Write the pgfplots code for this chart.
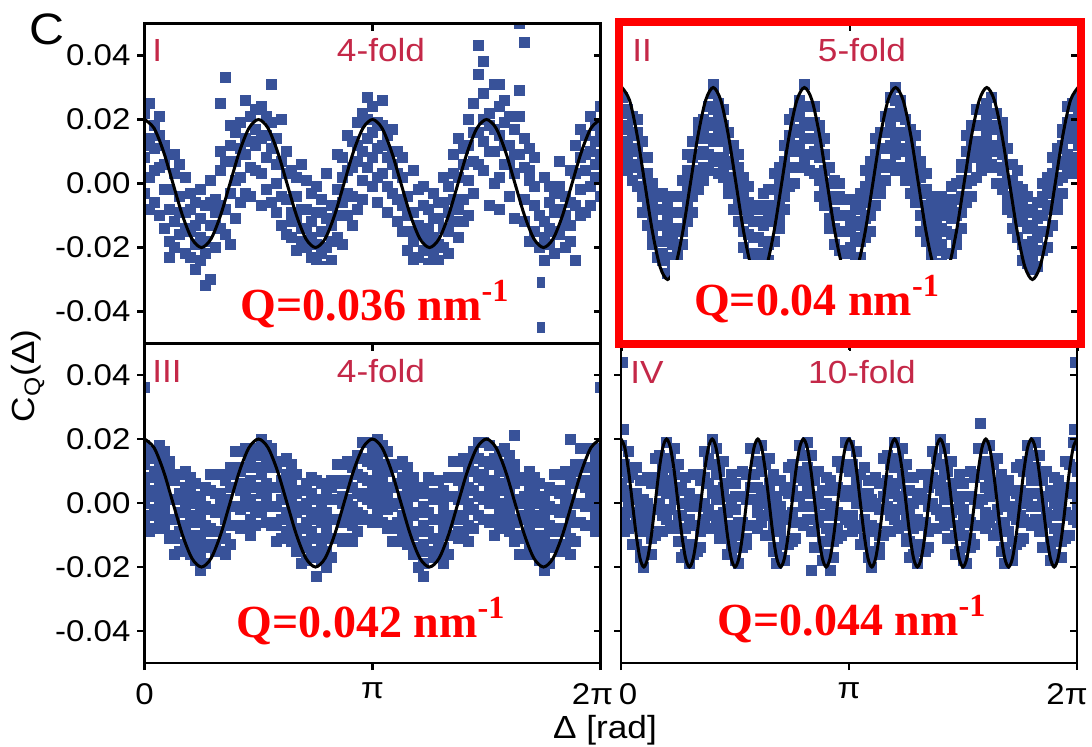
\documentclass[border=0pt]{standalone}
\usepackage{pgfplots}
\pgfplotsset{compat=1.18}
\usepackage{pgfplotstable}
\usepackage{fontspec}
\setmainfont{Liberation Sans}[FakeStretch=1.1]
\newfontfamily\qfont{Liberation Serif}
\definecolor{ptblue}{RGB}{56,82,153}
\definecolor{lbl}{RGB}{196,40,72}
\definecolor{qred}{RGB}{255,0,0}

% y values in units of 10^-3, x in degrees
\pgfplotstableread{
x a b c d
0 22 8 -3 12
4 14 25 2 -8
8 18 -6 11 4
12 5 15 -10 21
16 -2 12 -14 6
20 9 -8 -18 -2
24 -12 3 -20 9
28 -4 -16 6 -9
32 -22 -9 2 -14
36 -15 -3 -23 -8
40 -6 -19 -27 -13
44 -11 -24 -2 -17
48 -18 -7 -32 -22
52 1 -13 -30 -6
56 -20 -5 -9 -13
60 -14 4 10 -7
64 33 -8 -16 7
68 12 -3 -19 18
72 7 16 -11 1
76 19 2 -6 11
80 26 9 14 -3
84 5 21 -4 13
88 17 12 23 4
92 24 3 -7 14
96 15 8 -2 21
100 31 11 19 -6
104 0 -9 14 6
108 7 -13 20 -4
112 -5 10 -16 3
116 -17 4 -9 -12
120 -11 -21 2 -4
124 6 -14 -18 -8
128 -20 -8 1 -14
132 -23 -12 -3 -17
136 -9 -19 -24 -1
140 -15 -22 -5 -9
144 -26 -11 3 -20
148 -13 -24 -7 -18
152 -2 -17 9 -10
156 -6 8 -19 2
160 4 -10 15 -3
164 13 -4 -13 5
168 19 7 -8 12
172 10 22 1 -5
176 27 5 14 20
180 24 -1 16 8
184 11 19 -6 2
188 26 3 12 18
192 8 15 -9 -1
196 17 -3 6 10
200 -5 10 -12 3
204 2 -15 8 -7
208 -10 -4 -21 -15
212 -18 -9 4 -24
216 -13 -23 -2 -16
220 -21 -16 -7 -1
224 -8 -25 -14 -19
228 -17 -22 -3 -11
232 -24 -11 -19 -6
236 -6 -20 2 -14
240 -15 -1 -22 -9
244 3 -12 9 -5
248 -8 14 -17 2
252 11 -5 6 -12
256 20 1 -10 12
260 7 25 -3 16
264 43 16 34 6
268 28 13 4 20
272 22 -7 18 10
276 31 10 0 17
280 15 24 -8 2
284 26 6 19 12
288 12 -4 21 6
292 3 17 -11 9
296 50 29 9 21
300 14 -12 5 -5
304 1 -18 11 4
308 -7 8 -15 -1
312 -31 -45 -20 -10
316 -12 -24 2 -17
320 -19 -6 -14 -1
324 -3 -22 -9 -15
328 -16 -1 7 -8
332 -10 -20 -4 -13
336 4 -13 -18 -6
340 -24 12 -7 3
344 8 -2 17 -10
348 15 4 -9 9
352 10 21 -1 -7
356 18 2 13 6
360 24 9 -4 16
}\dataI
\pgfplotstableread{
x y
268 38
300 44
280 31
60 25
20 -23
}\extraI

\pgfplotstableread{
x a b c d e f
0 6 12 17 22 27 9
4 7 13 18 23 4 18
8 1 6 11 16 21 10
12 -1 5 10 15 20 16
16 -4 -9 3 8 13 -4
20 -13 -7 -2 3 8 0
24 -16 -10 -5 0 -19 -10
28 -23 -18 -13 -8 -3 -4
32 -24 -18 -13 -8 -3 -22
36 -23 -28 -16 -11 -6 -13
40 -25 -19 -14 -9 -4 -17
44 -20 -14 -9 -4 -23 -4
48 -19 -14 -9 -4 1 -15
52 -12 -6 -1 4 9 0
56 -4 -9 3 8 13 1
60 -2 4 9 14 19 16
64 4 10 15 20 1 5
68 4 9 14 19 24 18
72 7 13 18 23 28 14
76 8 3 15 20 25 23
80 2 8 13 18 23 5
84 0 6 11 16 -3 11
88 -8 -3 2 7 12 1
92 -12 -6 -1 4 9 5
96 -15 -20 -8 -3 2 -15
100 -22 -16 -11 -6 -1 -9
104 -23 -17 -12 -7 -26 -17
108 -27 -22 -17 -12 -7 -8
112 -24 -18 -13 -8 -3 -22
116 -19 -24 -12 -7 -2 -9
120 -18 -12 -7 -2 3 -10
124 -11 -5 0 5 -14 5
128 -8 -3 2 7 12 -4
132 -1 5 10 15 20 11
136 5 0 12 17 22 10
140 5 11 16 21 26 23
144 8 14 19 24 5 9
148 4 9 14 19 24 18
152 3 9 14 19 24 10
156 1 -4 8 13 18 16
160 -7 -1 4 9 14 -4
164 -11 -5 0 5 -14 0
168 -19 -14 -9 -4 1 -10
172 -21 -15 -10 -5 0 -4
176 -22 -27 -15 -10 -5 -22
180 -26 -20 -15 -10 -5 -13
184 -23 -17 -12 -7 -26 -17
188 -23 -18 -13 -8 -3 -4
192 -17 -11 -6 -1 4 -15
196 -10 -15 -3 2 7 0
200 -7 -1 4 9 14 1
204 0 6 11 16 -3 16
208 1 6 11 16 21 5
212 6 12 17 22 27 18
216 9 4 16 21 26 14
220 5 11 16 21 26 23
224 4 10 15 20 1 5
228 -3 2 7 12 17 11
232 -6 0 5 10 15 1
236 -10 -15 -3 2 7 5
240 -18 -12 -7 -2 3 -15
244 -20 -14 -9 -4 -23 -9
248 -26 -21 -16 -11 -6 -17
252 -25 -19 -14 -9 -4 -8
256 -22 -27 -15 -10 -5 -22
260 -22 -16 -11 -6 -1 -9
264 -16 -10 -5 0 -19 -10
268 -14 -9 -4 1 6 5
272 -6 0 5 10 15 -4
276 1 -4 8 13 18 11
280 2 8 13 18 23 10
284 7 13 18 23 4 23
288 5 10 15 20 25 9
292 6 12 17 22 27 18
296 5 0 12 17 22 10
300 -2 4 9 14 19 16
304 -5 1 6 11 -8 -4
308 -14 -9 -4 1 6 0
312 -17 -11 -6 -1 4 -10
316 -19 -24 -12 -7 -2 -4
320 -25 -19 -14 -9 -4 -22
324 -24 -18 -13 -8 -27 -13
328 -26 -21 -16 -11 -6 -17
332 -21 -15 -10 -5 0 -4
336 -15 -20 -8 -3 2 -15
340 -13 -7 -2 3 8 0
344 -5 1 6 11 -8 1
348 -3 2 7 12 17 16
352 3 9 14 19 24 5
356 8 3 15 20 25 18
360 6 12 17 22 27 14
}\dataII
\pgfplotstableread{
x y
72 31
144 31
216 30
}\extraII

\pgfplotstableread{
x a b c d e f
0 -6 0 6 12 18 3
4 -4 2 8 14 -9 15
8 -8 -2 4 10 16 -4
12 -5 1 7 13 18 7
16 -8 -2 4 10 16 0
20 -11 -5 1 7 13 10
24 -11 -5 1 7 -16 -10
28 -15 -9 -3 3 9 1
32 -13 -7 -1 5 10 -7
36 -16 -10 -4 2 8 4
40 -18 -12 -6 0 6 -15
44 -16 -10 -4 2 -21 -3
48 -19 -13 -7 -1 5 -9
52 -14 -8 -2 4 9 4
56 -15 -9 -3 3 9 -13
60 -15 -9 -3 3 9 0
64 -11 -5 1 7 -16 -4
68 -13 -7 -1 5 11 9
72 -7 -1 5 11 16 -7
76 -8 -2 4 10 16 6
80 -7 -1 5 11 17 2
84 -5 1 7 13 -10 14
88 -7 -1 5 11 17 -3
92 -3 3 9 15 20 9
96 -6 0 6 12 18 2
100 -7 -1 5 11 17 14
104 -7 -1 5 11 -12 -6
108 -11 -5 1 7 13 5
112 -9 -3 3 9 14 -3
116 -12 -6 0 6 12 8
120 -15 -9 -3 3 9 -12
124 -14 -8 -2 4 -19 -1
128 -18 -12 -6 0 6 -8
132 -15 -9 -3 3 8 3
136 -17 -11 -5 1 7 -15
140 -18 -12 -6 0 6 -3
144 -15 -9 -3 3 -20 -8
148 -17 -11 -5 1 7 5
152 -11 -5 1 7 12 -11
156 -12 -6 0 6 12 2
160 -11 -5 1 7 13 -2
164 -7 -1 5 11 -12 12
168 -9 -3 3 9 15 -5
172 -4 2 8 14 19 8
176 -5 1 7 13 19 3
180 -6 0 6 12 18 15
184 -3 3 9 15 20 -3
188 -6 0 6 12 18 8
192 -8 -2 4 10 16 1
196 -7 -1 5 11 -12 12
200 -12 -6 0 6 12 -8
204 -10 -4 2 8 13 2
208 -13 -7 -1 5 11 -5
212 -16 -10 -4 2 8 5
216 -15 -9 -3 3 -20 -14
220 -19 -13 -7 -1 5 -3
224 -15 -9 -3 3 8 -9
228 -17 -11 -5 1 7 3
232 -17 -11 -5 1 7 -14
236 -14 -8 -2 4 -19 -1
240 -16 -10 -4 2 8 -6
244 -10 -4 2 8 13 8
248 -11 -5 1 7 13 -9
252 -10 -4 2 8 14 5
256 -7 -1 5 11 -12 0
260 -8 -2 4 10 16 14
264 -4 2 8 14 19 -4
268 -5 1 7 13 19 9
272 -6 0 6 12 18 3
276 -5 1 7 13 -10 14
280 -8 -2 4 10 16 -4
284 -6 0 6 12 17 6
288 -9 -3 3 9 15 -1
292 -12 -6 0 6 12 9
296 -11 -5 1 7 -16 -10
300 -16 -10 -4 2 8 0
304 -13 -7 -1 5 10 -7
308 -16 -10 -4 2 8 4
312 -18 -12 -6 0 6 -15
316 -16 -10 -4 2 -21 -3
320 -19 -13 -7 -1 5 -9
324 -14 -8 -2 4 9 4
328 -15 -9 -3 3 9 -13
332 -14 -8 -2 4 10 1
336 -11 -5 1 7 -16 -4
340 -12 -6 0 6 12 10
344 -6 0 6 12 17 -6
348 -7 -1 5 11 17 7
352 -7 -1 5 11 17 2
356 -4 2 8 14 -9 15
360 -7 -1 5 11 17 -3
}\dataIII
\pgfplotstableread{
x y
0 36
360 36
136 -23
220 -23
292 21
336 20
}\extraIII

\pgfplotstableread{
x a b c d e
0 -6 2 10 18 6
3 -4 4 12 -9 -3
6 -8 0 8 16 11
9 -7 1 9 -13 -3
12 -13 -5 3 11 2
15 -17 -9 -1 7 -16
18 -15 -7 1 -20 -4
21 -16 -8 0 8 -5
24 -10 -2 6 -16 -11
27 -10 -2 6 14 8
30 -9 -1 7 15 0
33 -4 4 12 -9 10
36 -5 3 11 19 -5
39 -2 6 14 -8 7
42 -7 1 9 17 3
45 -12 -4 4 12 -8
48 -12 -4 4 -17 5
51 -16 -8 0 8 -8
54 -13 -5 3 -19 -1
57 -15 -7 1 9 -16
60 -15 -7 1 9 -1
63 -9 -1 7 -14 0
66 -8 0 8 16 -5
69 -2 6 14 -8 13
72 -4 4 12 20 3
75 -7 1 9 17 10
78 -6 2 10 -11 -8
81 -11 -3 5 13 2
84 -10 -2 6 -16 -3
87 -15 -7 1 9 -13
90 -18 -10 -2 6 2
93 -14 -6 2 -19 -8
96 -14 -6 2 10 2
99 -7 1 9 -13 -11
102 -7 1 9 17 5
105 -7 1 9 17 5
108 -3 5 13 -8 -2
111 -6 2 10 18 13
114 -4 4 12 -10 0
117 -10 -2 6 14 5
120 -15 -7 1 9 -14
123 -14 -6 2 -19 -3
126 -17 -9 -1 7 -6
129 -12 -4 4 -18 -13
132 -13 -5 3 11 5
135 -12 -4 4 12 -3
138 -6 2 10 -11 8
141 -6 2 10 18 -6
144 -1 7 15 -7 8
147 -5 3 11 19 5
150 -9 -1 7 15 -5
153 -9 -1 7 -14 8
156 -14 -6 2 10 -6
159 -12 -4 4 -18 0
162 -16 -8 0 8 -17
165 -17 -9 -1 7 -3
168 -12 -4 4 -17 -3
171 -11 -3 5 13 -8
174 -4 4 12 -10 11
177 -5 3 11 19 2
180 -6 2 10 18 11
183 -4 4 12 -9 -6
186 -8 0 8 16 5
189 -7 1 9 -13 0
192 -13 -5 3 11 -11
195 -17 -9 -1 7 3
198 -15 -7 1 -20 -9
201 -16 -8 0 8 0
204 -10 -2 6 -16 -14
207 -10 -2 6 14 2
210 -9 -1 7 15 3
213 -4 4 12 -9 -3
216 -5 3 11 19 14
219 -2 6 14 -8 2
222 -7 1 9 17 8
225 -12 -4 4 12 -11
228 -12 -4 4 -17 -1
231 -16 -8 0 8 -5
234 -13 -5 3 -19 -14
237 -15 -7 1 9 3
240 -15 -7 1 9 -6
243 -9 -1 7 -14 5
246 -8 0 8 16 -8
249 -2 6 14 -8 7
252 -4 4 12 20 6
255 -7 1 9 17 -3
258 -6 2 10 -11 11
261 -11 -3 5 13 -3
264 -10 -2 6 -16 2
267 -15 -7 1 9 -16
270 -18 -10 -2 6 -4
273 -14 -6 2 -19 -5
276 -14 -6 2 10 -11
279 -7 1 9 -13 8
282 -7 1 9 17 0
285 -7 1 9 17 10
288 -3 5 13 -8 -5
291 -6 2 10 18 7
294 -4 4 12 -10 3
297 -10 -2 6 14 -8
300 -15 -7 1 9 5
303 -14 -6 2 -19 -8
306 -17 -9 -1 7 -1
309 -12 -4 4 -18 -16
312 -13 -5 3 11 -1
315 -12 -4 4 12 0
318 -6 2 10 -11 -5
321 -6 2 10 18 13
324 -1 7 15 -7 3
327 -5 3 11 19 10
330 -9 -1 7 15 -8
333 -9 -1 7 -14 2
336 -14 -6 2 10 -3
339 -12 -4 4 -18 -13
342 -16 -8 0 8 2
345 -17 -9 -1 7 -8
348 -12 -4 4 -17 2
351 -11 -3 5 13 -11
354 -4 4 12 -10 5
357 -5 3 11 19 5
360 -6 2 10 18 -2
}\dataIV
\pgfplotstableread{
x y
1 44
359 44
284 25
2 23
358 23
150 -21
165 -21
}\extraIV

% fitted curves
\pgfplotstableread{
x y
0 20
7.5 17.32
15 10
22.5 0
30 -10
37.5 -17.32
45 -20
52.5 -17.32
60 -10
67.5 0
75 10
82.5 17.32
90 20
97.5 17.32
105 10
112.5 0
120 -10
127.5 -17.32
135 -20
142.5 -17.32
150 -10
157.5 0
165 10
172.5 17.32
180 20
187.5 17.32
195 10
202.5 0
210 -10
217.5 -17.32
225 -20
232.5 -17.32
240 -10
247.5 0
255 10
262.5 17.32
270 20
277.5 17.32
285 10
292.5 0
300 -10
307.5 -17.32
315 -20
322.5 -17.32
330 -10
337.5 0
345 10
352.5 17.32
360 20
}\fitfour
\pgfplotstableread{
x y
0 30
6 25.98
12 15
18 0
24 -15
30 -25.98
36 -30
42 -25.98
48 -15
54 0
60 15
66 25.98
72 30
78 25.98
84 15
90 0
96 -15
102 -25.98
108 -30
114 -25.98
120 -15
126 0
132 15
138 25.98
144 30
150 25.98
156 15
162 0
168 -15
174 -25.98
180 -30
186 -25.98
192 -15
198 0
204 15
210 25.98
216 30
222 25.98
228 15
234 0
240 -15
246 -25.98
252 -30
258 -25.98
264 -15
270 0
276 15
282 25.98
288 30
294 25.98
300 15
306 0
312 -15
318 -25.98
324 -30
330 -25.98
336 -15
342 0
348 15
354 25.98
360 30
}\fitfive
\pgfplotstableread{
x y
0 20
3 17.32
6 10
9 0
12 -10
15 -17.32
18 -20
21 -17.32
24 -10
27 0
30 10
33 17.32
36 20
39 17.32
42 10
45 0
48 -10
51 -17.32
54 -20
57 -17.32
60 -10
63 0
66 10
69 17.32
72 20
75 17.32
78 10
81 0
84 -10
87 -17.32
90 -20
93 -17.32
96 -10
99 0
102 10
105 17.32
108 20
111 17.32
114 10
117 0
120 -10
123 -17.32
126 -20
129 -17.32
132 -10
135 0
138 10
141 17.32
144 20
147 17.32
150 10
153 0
156 -10
159 -17.32
162 -20
165 -17.32
168 -10
171 0
174 10
177 17.32
180 20
183 17.32
186 10
189 0
192 -10
195 -17.32
198 -20
201 -17.32
204 -10
207 0
210 10
213 17.32
216 20
219 17.32
222 10
225 0
228 -10
231 -17.32
234 -20
237 -17.32
240 -10
243 0
246 10
249 17.32
252 20
255 17.32
258 10
261 0
264 -10
267 -17.32
270 -20
273 -17.32
276 -10
279 0
282 10
285 17.32
288 20
291 17.32
294 10
297 0
300 -10
303 -17.32
306 -20
309 -17.32
312 -10
315 0
318 10
321 17.32
324 20
327 17.32
330 10
333 0
336 -10
339 -17.32
342 -20
345 -17.32
348 -10
351 0
354 10
357 17.32
360 20
}\fitten

\pgfplotsset{
  panel/.style={scale only axis, width=228pt, height=160pt,
    anchor=north west, xmin=0, xmax=360, ymin=-50, ymax=50,
    xtick={0,180,360}, ytick={-40,-20,0,20,40},
    tick pos=left, tick align=outside, major tick length=3.5pt,
    axis line style={line width=1.1pt},
    tick style={line width=1.1pt, black},
    tick label style={font=\fontsize{15}{15}\selectfont},
    xticklabel style={yshift=-3pt},
    xticklabels={}, yticklabels={}, axis on top,
    clip marker paths=true},
  pts/.style={only marks, mark=square*, mark size=2.5pt, color=ptblue,
    mark options={draw=ptblue, fill=ptblue, line width=0pt}},
  fit/.style={black, line width=1.5pt, smooth, no markers},
}
\newcommand{\innerticks}{%
  \pgfplotsinvokeforeach{-40,-20,0,20,40}{\draw[line width=1.1pt] (axis cs:360,##1) -- ++(-3.5pt,0pt);}%
  \draw[line width=1.1pt] (axis cs:180,50) -- ++(0pt,-3.5pt);%
}

\begin{document}
\begin{tikzpicture}
\useasboundingbox (0,0) rectangle (546pt,-373pt);

% Panel I
\begin{axis}[panel, at={(72.25pt,-11.75pt)},
  yticklabels={-0.04,-0.02,0.00,0.02,0.04}]
\addplot[pts] table[x=x,y=a] {\dataI};
\addplot[pts] table[x=x,y=b] {\dataI};
\addplot[pts] table[x=x,y=c] {\dataI};
\addplot[pts] table[x=x,y=d] {\dataI};
\addplot[pts] table[x=x,y=y] {\extraI};
\addplot[fit] table[x=x,y=y] {\fitfour};
\fill[white] (axis cs:57,-25.6) rectangle (axis cs:310,-52);
\innerticks
\end{axis}

% Panel II
\begin{axis}[panel, at={(311pt,-11.75pt)}]
\addplot[pts] table[x=x,y=a] {\dataII};
\addplot[pts] table[x=x,y=b] {\dataII};
\addplot[pts] table[x=x,y=c] {\dataII};
\addplot[pts] table[x=x,y=d] {\dataII};
\addplot[pts] table[x=x,y=e] {\dataII};
\addplot[pts] table[x=x,y=f] {\dataII};
\addplot[pts] table[x=x,y=y] {\extraII};
\addplot[fit] table[x=x,y=y] {\fitfive};
\fill[white] (axis cs:38,-24) rectangle (axis cs:262,-52);
\innerticks
\end{axis}

% Panel III
\begin{axis}[panel, at={(72.25pt,-171.5pt)},
  yticklabels={-0.04,-0.02,0.00,0.02,0.04},
  xticklabels={0,π,2π\kern8pt}]
\addplot[pts] table[x=x,y=a] {\dataIII};
\addplot[pts] table[x=x,y=b] {\dataIII};
\addplot[pts] table[x=x,y=c] {\dataIII};
\addplot[pts] table[x=x,y=d] {\dataIII};
\addplot[pts] table[x=x,y=e] {\dataIII};
\addplot[pts] table[x=x,y=f] {\dataIII};
\addplot[pts] table[x=x,y=y] {\extraIII};
\addplot[fit] table[x=x,y=y] {\fitfour};
\innerticks
\end{axis}

% Panel IV
\begin{axis}[panel, at={(310.5pt,-171.5pt)},
  xticklabels={\kern7pt 0,π,2π\kern10pt}]
\addplot[pts] table[x=x,y=a] {\dataIV};
\addplot[pts] table[x=x,y=b] {\dataIV};
\addplot[pts] table[x=x,y=c] {\dataIV};
\addplot[pts] table[x=x,y=d] {\dataIV};
\addplot[pts] table[x=x,y=e] {\dataIV};
\addplot[pts] table[x=x,y=y] {\extraIV};
\addplot[fit] table[x=x,y=y] {\fitten};
\innerticks
\end{axis}

% panel labels
\begin{scope}[every node/.style={text=lbl, font=\fontsize{16}{16}\selectfont, inner sep=0pt}]
\node[anchor=west] at (76pt,-25pt) {I};
\node at (190.5pt,-25pt) {4-fold};
\node[anchor=west] at (316pt,-25pt) {II};
\node at (431pt,-25pt) {5-fold};
\node[anchor=west] at (76pt,-185.5pt) {III};
\node at (190.5pt,-185.5pt) {4-fold};
\node[anchor=west] at (315pt,-186pt) {IV};
\node at (431pt,-186pt) {10-fold};
\end{scope}

% red Q labels
\begin{scope}[every node/.style={text=qred, font=\qfont\bfseries\fontsize{23}{23}\selectfont, inner sep=0pt, anchor=base}]
\node at (187.5pt,-160pt) {Q=0.036 nm\textsuperscript{-1}};
\node at (408.5pt,-157.5pt) {Q=0.04 nm\textsuperscript{-1}};
\node at (185.5pt,-318.5pt) {Q=0.042 nm\textsuperscript{-1}};
\node at (426pt,-317.5pt) {Q=0.044 nm\textsuperscript{-1}};
\end{scope}

% red frame around panel II
\draw[qred, line width=4pt] (309.5pt,-11pt) rectangle (540.5pt,-172pt);

% outer labels
\node[font=\fontsize{22}{22}\selectfont, inner sep=0pt] at (23.5pt,-14.5pt) {C};
\node[rotate=90, font=\fontsize{16}{16}\selectfont, inner sep=0pt] at (14pt,-188pt) {C\textsubscript{Q}(Δ)};
\node[font=\fontsize{16}{16}\selectfont, inner sep=0pt] at (302.5pt,-365pt) {Δ [rad]};
\end{tikzpicture}
\end{document}
